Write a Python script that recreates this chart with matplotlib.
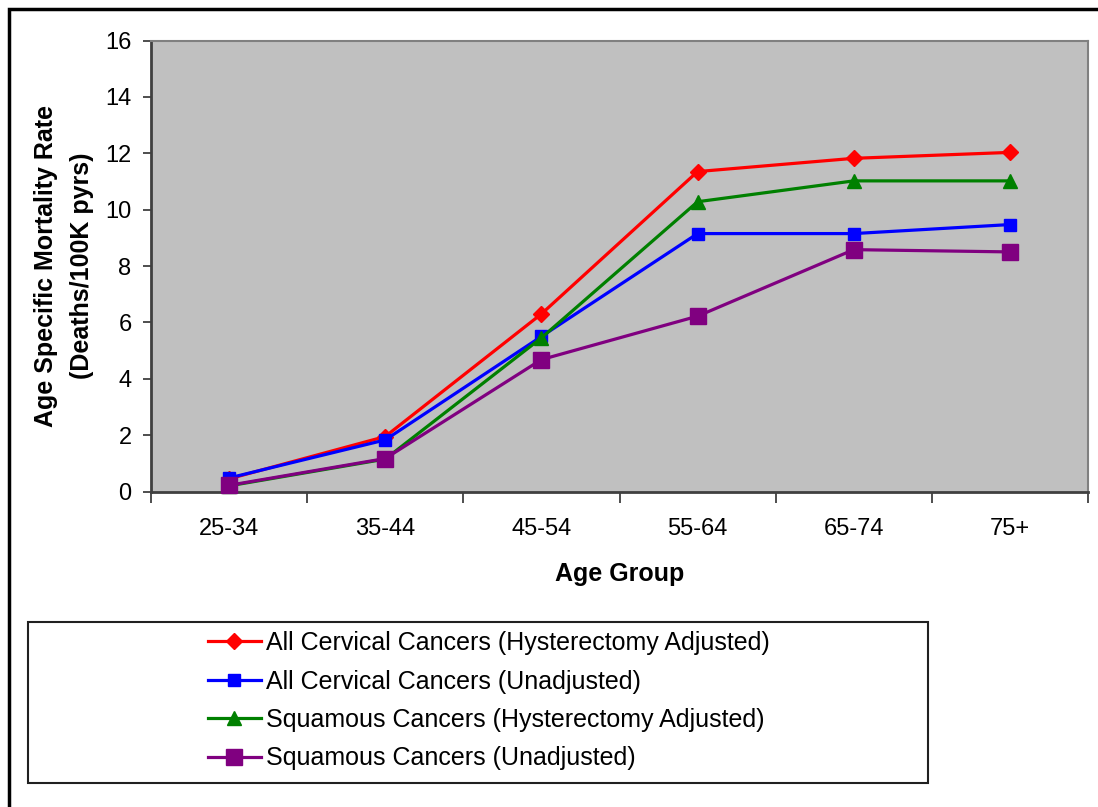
import matplotlib
matplotlib.use("Agg")
import matplotlib.pyplot as plt
from matplotlib.patches import Rectangle

# Age groups and mortality rates (deaths per 100K person-years).
age_groups = ["25-34", "35-44", "45-54", "55-64", "65-74", "75+"]
all_adjusted = [0.45, 1.95, 6.3, 11.35, 11.82, 12.03]
all_unadjusted = [0.48, 1.83, 5.5, 9.15, 9.15, 9.47]
squamous_adjusted = [0.2, 1.15, 5.45, 10.28, 11.02, 11.02]
squamous_unadjusted = [0.22, 1.17, 4.68, 6.22, 8.58, 8.5]

series_labels = [
    "All Cervical Cancers (Hysterectomy Adjusted)",
    "All Cervical Cancers (Unadjusted)",
    "Squamous Cancers (Hysterectomy Adjusted)",
    "Squamous Cancers (Unadjusted)",
]
y_ticks = [0, 2, 4, 6, 8, 10, 12, 14, 16]

W, H = 1098, 807
plt.rcParams["font.family"] = ["Liberation Sans", "DejaVu Sans"]

fig = plt.figure(figsize=(W / 100, H / 100), dpi=100)
ax = fig.add_axes([151 / W, 1 - 491.5 / H, 937 / W, 451 / H])
ax.set_facecolor("#C0C0C0")

x = list(range(len(age_groups)))
styles = [
    (all_adjusted, "#FF0000", "D", 8),
    (all_unadjusted, "#0000FF", "s", 8),
    (squamous_adjusted, "#008000", "^", 9.5),
    (squamous_unadjusted, "#800080", "s", 12),
]
for (vals, color, marker, ms), label in zip(styles, series_labels):
    ax.plot(x, vals, color=color, lw=2.3, marker=marker, markersize=ms,
            markeredgecolor=color, label=label, clip_on=False, zorder=3)

ax.set_xlim(-0.5, len(age_groups) - 0.5)
ax.set_ylim(0, 16)
ax.set_yticks(y_ticks)
ax.set_xticks(x)
ax.set_xticklabels(age_groups)
ax.set_xticks([i + 0.5 for i in range(-1, len(age_groups))], minor=True)
ax.tick_params(axis="x", which="major", length=0, pad=19, labelsize=17)
ax.tick_params(axis="x", which="minor", length=8, width=1.2, color="#303030")
ax.tick_params(axis="y", length=6, width=1.2, color="#303030", pad=8, labelsize=17)

for side in ["left", "bottom"]:
    ax.spines[side].set_color("#404040")
    ax.spines[side].set_linewidth(2)
for side in ["top", "right"]:
    ax.spines[side].set_color("#808080")
    ax.spines[side].set_linewidth(1.5)

ax.set_xlabel("Age Group", fontsize=18, fontweight="bold", labelpad=16)
ax.set_ylabel("Age Specific Mortality Rate\n(Deaths/100K pyrs)", fontsize=18,
              fontweight="bold", labelpad=8, linespacing=1.65)

# Legend box drawn separately, entries placed inside it.
fig.patches.append(Rectangle((28 / W, 1 - 783 / H), 900 / W, 161 / H,
                             transform=fig.transFigure, facecolor="white",
                             edgecolor="#202020", lw=1.5, zorder=1))
leg = fig.legend(loc="upper left", bbox_to_anchor=(198 / W, 1 - 621 / H),
                 frameon=False, fontsize=18, handlelength=2.1,
                 handletextpad=0.2, labelspacing=0.58, borderaxespad=0)
leg.set_zorder(2)

# Outer chart frame (only top and left edges fall inside the image).
fig.patches.append(Rectangle((9 / W, -0.1), 1.5, 1.1 - 9 / H,
                             transform=fig.transFigure, facecolor="none",
                             edgecolor="black", lw=2.5, zorder=0))

fig.savefig("out.png", dpi=100)
plt.close(fig)
